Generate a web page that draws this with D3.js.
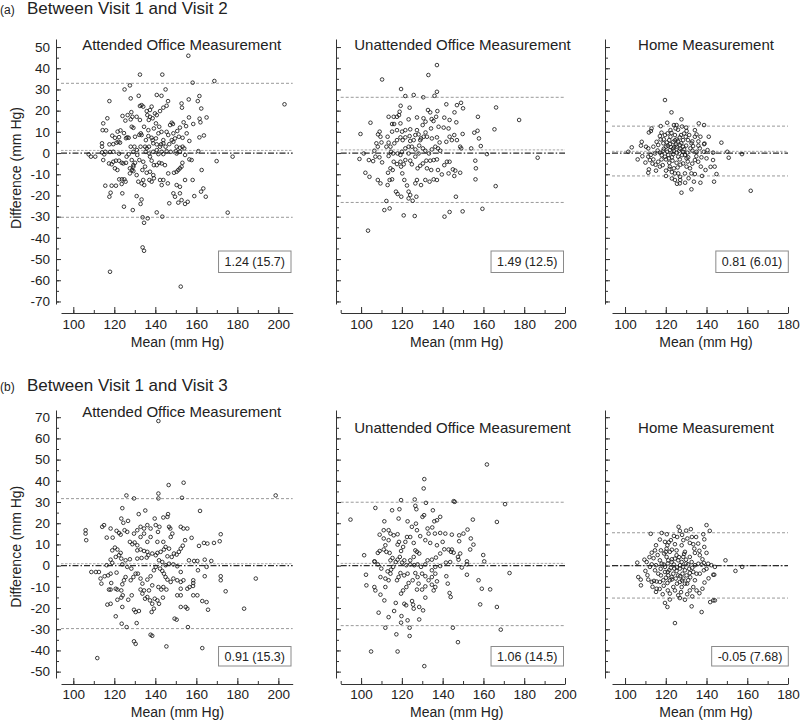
<!DOCTYPE html>
<html><head><meta charset="utf-8">
<script src="https://cdn.jsdelivr.net/npm/d3@7"></script>
<style>body{margin:0;background:#fff;} svg{display:block;font-family:"Liberation Sans",Arial,sans-serif;}</style>
</head><body><svg id="c" width="800" height="721"></svg>
<script>
// ---------------- DATA ----------------
const rowHeaders = [["(a)", "Between Visit 1 and Visit 2"], ["(b)", "Between Visit 1 and Visit 3"]];
const panelTitles = ["Attended Office Measurement", "Unattended Office Measurement", "Home Measurement"];
const xAxisTitle = "Mean (mm Hg)";
const yAxisTitle = "Difference (mm Hg)";
const xTicksOffice = [100, 120, 140, 160, 180, 200];
const xTicksHome = [100, 120, 140, 160, 180];
const yTicksA = [-70, -60, -50, -40, -30, -20, -10, 0, 10, 20, 30, 40, 50];
const yTicksB = [-50, -40, -30, -20, -10, 0, 10, 20, 30, 40, 50, 60, 70];
const meanDiffA = [1.24, 1.49, 0.81];
const meanDiffB = [0.91, 1.06, -0.05];
const upperLoAA = [32.9, 26.3, 12.7];
const lowerLoAA = [-30.3, -23.3, -10.8];
const upperLoAB = [31.6, 29.9, 15.5];
const lowerLoAB = [-29.7, -28.3, -15.3];
const statLabelsA = ["1.24 (15.7)", "1.49 (12.5)", "0.81 (6.01)"];
const statLabelsB = ["0.91 (15.3)", "1.06 (14.5)", "-0.05 (7.68)"];

const a1Points = [[156.1,45.9],[132.5,37],[143.4,37],[158.2,33.2],[168.8,34],[203,23],[127.6,31.9],[125,30],[145,30],[117.6,24.5],[128,25.8],[131.9,27],[140.7,27.4],[143,27],[146.2,24.5],[156.3,25.3],[161.5,26.9],[160.7,24.5],[152.8,23.4],[153,21.4],[162.4,21],[165,16.8],[162,14.5],[161.6,16.2],[156.4,16.8],[153.8,14.5],[158.5,13.7],[155,12.7],[152,12],[150.7,10.4],[155.3,9.3],[151.5,7.7],[153.3,7.2],[161.5,7.4],[163.7,8.3],[156.6,5.7],[161,0.9],[116.6,16.4],[114.6,14],[114.3,10.8],[116,10.7],[119,8.2],[120.3,7.2],[122.3,7.5],[124.7,9.4],[123,10.7],[127,7.2],[125.7,7],[114,4.6],[114,3],[117.6,4.1],[119.5,4.2],[122,5.3],[122.8,4.9],[115.6,0.6],[107.5,-0.6],[108.6,-1.7],[110.7,-1.7],[114,0.3],[117.9,0.5],[119.5,0.6],[122.3,-0.3],[117.4,-4.9],[118.7,-5.3],[119.5,-4.1],[120.8,-3.6],[122.3,-3.6],[120.3,-7.2],[123.6,-4.6],[124.4,-4.9],[125.7,-4.6],[121.5,-8],[115.6,-15.4],[118.7,-15.4],[120.8,-15.4],[117.6,-20.6],[118.2,-18.7],[122.4,-12.4],[123.7,-12.4],[124.9,-12.4],[125.5,-13.5],[123.6,-14.6],[123.9,-19],[124.7,-25.3],[129,-26.9],[127.6,-9.6],[128.6,-8],[129.3,-5.7],[128.5,-3.3],[129.3,0.6],[128,3],[129.8,3],[131,1.4],[127,-0.6],[126,-1.7],[130.1,7.7],[132.2,8.6],[132.9,9.3],[133.3,8.5],[128.5,12.4],[129.3,11.9],[128,15.9],[128.8,17.1],[128.3,19.3],[126.5,17.9],[124,17.5],[130.9,17.1],[132.5,15.6],[133.3,22.6],[134.1,21.9],[132.5,22.2],[135.8,19.8],[137.4,20.3],[138.2,21.9],[136.1,17.9],[137.4,17.1],[138.7,16.4],[136.8,15.6],[139.8,18.7],[140.7,17.9],[142.3,19.8],[143.9,21.4],[145.5,22.3],[140.3,14],[141.9,12.4],[139.3,11.6],[136.6,10.8],[134.5,12.4],[136.6,8],[138.2,7.2],[138.7,6.1],[135.4,6.1],[140.3,6.9],[141.5,9.3],[143,10],[145.5,10],[147.2,13.2],[148,14.3],[148.6,13.7],[146.3,8.5],[148.8,9.3],[143.9,6.1],[148,6.1],[149.6,6.9],[148.8,5.3],[143.9,4.6],[142.8,4.1],[140.7,4.1],[139,4.6],[136.9,3],[135,3],[132.8,3],[142.3,3],[145,3],[146.8,4.2],[150.4,3],[152,2.5],[153.3,3],[154.1,2.2],[150,0.9],[150.4,-0.2],[152,0.6],[145.5,0.9],[143.9,-0.5],[143.1,0.6],[141.5,-0.5],[140.7,1.4],[139,0.6],[147.5,0.6],[154.5,-0.9],[156.6,-3],[157.7,-3.3],[153.2,-4.6],[152.8,-6.4],[152,-7.2],[151.2,-8],[150.4,-8.8],[149.1,-9.3],[146.3,-9.6],[141.9,-4.6],[143.1,-4.9],[144.7,-5.7],[140.7,-5.7],[139.3,-5.7],[138.2,-3.6],[134.1,-4.1],[135,-6.4],[133.7,-8],[135.8,-9.3],[137.4,-8.8],[139,-10.4],[139.3,-11.9],[138.2,-13.5],[137.1,-12.7],[134.1,-12.7],[133.3,-14.3],[134.6,-15.1],[131.7,-13.5],[130.9,-10.4],[129.3,-8.5],[142.3,-12.7],[143.1,-15.1],[143.9,-12.7],[146.1,-14.3],[150.4,-15.1],[152,-15.9],[148.8,-19],[149.6,-20.6],[152,-19],[152.8,-22.2],[151.2,-23.4],[146.8,-23.7],[154.5,-24],[155.8,-23],[154.5,-12.7],[158.2,-12.7],[159,-20.3],[162.3,-18.2],[163.4,-16.7],[164.6,-20.6],[162.6,-8],[169.9,-3.8],[177.7,-1.7],[175.3,-28.1],[140.7,-28],[143.4,-30],[133.3,-21.9],[130.9,-20.3],[132.8,-24],[133.8,-30.3],[134.5,-32.9],[136.3,-30.8],[133.8,-44.5],[134.5,-46.1],[117.9,-56],[152.4,-63],[115.1,-0.6],[114.6,-3.3],[132.2,-3.3],[131.2,-0.9],[130.1,-4.6],[129.3,-6.4],[127.6,-7.2],[135.3,0.6],[135.8,2.2],[137.1,-0.2],[137.4,-1.7],[121.1,4.9],[121.6,10.1],[125.4,15.3],[126.3,7.4]];

const a2Points = [[137.2,41.5],[133,36.8],[110.3,34.7],[119.6,30.2],[137.2,28.9],[136,27],[125.8,27.4],[130.5,26.3],[121.7,26.9],[141.8,23],[147,22.6],[149,23.7],[150,21.1],[166.2,21.5],[123.8,21.4],[119.4,22.3],[118.9,19.5],[132.8,20.3],[137.4,19.8],[133.9,19.2],[145.8,19.2],[157.3,17.1],[177.5,15.6],[104.6,14.3],[113.5,17.1],[116,17.1],[117.6,17.1],[118.6,17.9],[116.2,13.7],[115.2,13.7],[119.3,14],[123.3,15.9],[127.4,16.8],[130.6,16.4],[131.6,14.8],[134.6,16],[135.5,15.1],[136.8,17.1],[140.8,16.7],[143.4,15.6],[146.7,14.5],[142.9,11.6],[140.5,12],[138,12.4],[134.3,11.6],[130.2,13.2],[127.4,10.8],[124.1,11.2],[121.7,10.8],[120.1,10.1],[117.6,10.8],[115.2,10.1],[113,7.7],[109.1,10.1],[108.3,8.8],[99.7,9],[109.5,7.7],[110,5],[108.2,3],[107.5,4.6],[106.5,1.1],[101.3,-0.2],[99.2,-2.8],[103.8,-3.3],[105.9,-3.8],[109,-2],[110.3,-4.4],[107,-1.7],[112.4,3],[113.5,4.9],[114.4,3],[114.7,0.6],[116.3,4.6],[117.6,6.1],[119.3,7.4],[120.4,6.1],[121.7,7.4],[123.8,8],[126.6,8.5],[128.2,8.8],[129.4,6.9],[130.7,7.7],[132.3,7.7],[134.7,6.9],[137.2,7.4],[138.5,5],[141.8,5.3],[143.4,7.7],[144.5,6.1],[145.7,8.5],[147,6.1],[149.8,9],[148.6,3],[149.1,2.2],[154,2.2],[155.5,9.6],[157.1,10.5],[157.8,6.9],[158.7,3.3],[165.4,11.2],[161.7,-0.5],[186.6,-2.2],[156,-3.6],[156.3,-7.2],[166,-15.6],[156.1,-12.4],[159.5,-26.3],[149.8,-27.5],[143.4,-27.8],[140.9,-30],[126.3,-29.7],[120.9,-29.4],[114,-26.1],[111.4,-26.9],[112.4,-22.6],[103.4,-36.6],[102.1,-9.3],[104.1,-11.2],[108.2,-12.7],[109.5,-14.3],[113,-15.1],[114,-12.7],[115.2,-12.4],[113.2,-9.3],[115.5,-8],[114.4,-7.2],[117.1,-18.2],[117.9,-19.3],[119.7,-20.6],[123.3,-18.2],[124.1,-19.8],[123.3,-21.4],[125.3,-22.5],[127.1,-20.6],[122.5,-15.3],[121.2,-12.7],[120.2,-9.6],[119.6,-6.4],[120.9,-5.3],[117.6,-5.2],[116,-4.1],[119.3,-4.1],[121.7,-3.3],[124.1,-3.6],[124.9,-5.3],[126.6,-1.7],[128.2,-0.2],[126.6,1.7],[124.9,3],[123.3,3],[121.7,2.2],[120,0.6],[117.9,-0.2],[119.3,-0.9],[123.3,-0.2],[128.5,3.5],[130.3,2.2],[131.5,1.1],[133.3,-0.2],[134.7,1.7],[136.4,3],[137.7,2.2],[138.8,1.1],[135.6,-3.3],[137.2,-3],[133.9,-3.6],[132,-3.6],[130.3,-4.9],[129,-6],[127.7,-7.2],[132.3,-7.2],[134.4,-8],[137.7,-8],[139.6,-10.1],[140.8,-5.7],[142.1,-4.1],[143.4,-4.1],[145,-7.7],[146.2,-8.3],[148.6,-9.3],[145.7,-10.8],[142.9,-9.6],[137.2,-12.7],[135.6,-12.4],[133.6,-13.5],[131.5,-12.7],[129.4,-15.1],[127.4,-12.7],[126.6,-14.3],[146.5,-20.6],[115.7,-0.2],[113.5,-1.4],[129,6.1],[124.1,5.7],[131.6,9.7],[125.8,6.1]];

const a3Points = [[119.6,25],[122.8,19.2],[127.7,15.9],[120.7,14.3],[117.5,12.7],[113,11.6],[111.7,9.7],[112.7,10.4],[124,13.2],[125.3,13.2],[124.8,11.6],[130.2,10.4],[136.2,14],[138.8,13.2],[134.3,10.8],[135.1,8.8],[137,7.7],[141.1,7.7],[147.3,4.9],[103.3,2.7],[101.6,0.6],[106.2,-3],[108.2,5.3],[107.8,3.5],[110.3,3],[111.4,2.2],[113.9,3],[116.3,3.8],[115.5,5.3],[117.5,6.4],[117.1,8],[117.9,9.6],[119.6,8.5],[120.9,9.3],[122.3,7.7],[121.7,6.1],[118.8,4.6],[120.1,3],[122,4.2],[123.7,5.3],[125.3,6.4],[126.9,7.4],[128.5,6.1],[129.8,7.7],[130.9,6.1],[132.6,4.6],[133.4,3.3],[132.1,2.2],[128.5,3],[126.9,3.8],[125.3,3],[123.7,2.2],[122,1.4],[120.7,0.6],[118.8,1.1],[117.1,0.2],[114.7,-0.2],[112.6,-0.9],[111.4,-1.7],[112.2,-3.3],[113.9,-3],[116.3,-4.1],[117.9,-3],[119.6,-1.7],[121.2,-0.9],[123.7,-0.5],[125.3,0.2],[126.6,1.1],[128.5,0.6],[130.5,0.2],[133.1,1.1],[135.1,0.6],[136.7,2.2],[138.7,0.6],[140.5,1.4],[143.2,0.2],[150.2,0.6],[150.9,-2.2],[157.4,-0.5],[161.7,-17.8],[140,-2.5],[143.2,-3.3],[144,-6.4],[144.9,-9.9],[143.7,-13.5],[137.8,-10.8],[134.3,-9.9],[131.9,-7.2],[132.6,-9.6],[131.2,-11.9],[129.4,-9.6],[127,-11.2],[126.1,-9.6],[127.1,-12.7],[126.9,-14.3],[124.5,-12.7],[124.5,-9.6],[124,-7.2],[122,-6.4],[120.1,-8.3],[120.1,-10.8],[118.5,-5.7],[117.1,-6.4],[115.2,-8.3],[111.7,-7.7],[111.4,-9.3],[127.7,-18.7],[132.6,-17.1],[137.2,-6.4],[135.9,-4.1],[134.3,-3.3],[128.5,-4.9],[130.2,-2.5],[126.9,-3],[125.3,-4.6],[123.3,-3.6],[121.7,-4.6],[120.1,-3],[130.2,-6.4],[126.1,-1.7],[129.4,-0.9],[124.2,3],[127.6,4.6],[124.5,8.5],[134.3,7.7],[138.8,4.2],[122.3,10.8],[119,2],[121,3.5],[122.5,2.8],[124,1],[125,4],[126,5.5],[127,2],[128,-1],[129,1.8],[130,3.5],[131,-2],[123,-2],[121.5,-2.5],[120.5,5],[119,6.5],[124.5,6],[127.5,8.5],[129,9.2],[131.5,8.5],[133,5.5],[127.2,-5.5],[125.8,-6.8],[123,-9],[121.8,-7.5],[130.8,-4],[133,-5],[135,-1.5],[136,3.5],[122.8,9.5],[126,11],[128,12.5],[130,12],[118,-1],[116,1.2],[115,-5.5],[113.5,-5],[110,-4.5],[108.5,-1.5],[133.8,-13.5],[129.5,-14],[125.5,-14.5],[123,-12],[137,-14],[139.5,-8],[142,-6.5],[139,4.5],[136,5.5],[137.5,-2]];

const b1Points = [[141.5,68.2],[146.5,38],[153.8,39.1],[141.5,34],[141.5,31.7],[153,32],[125.9,33.1],[129.6,31.7],[198.7,33.1],[161.8,25.8],[135.1,26],[123.9,27.1],[131.9,24.3],[146.2,24.3],[145.9,23],[143.9,22.7],[139.7,22.2],[123.4,22.2],[126.7,21.1],[124.4,20.2],[115,19.1],[114.1,18.3],[106,16.7],[106,15.1],[106.3,12],[118.2,17.5],[116.3,13.2],[119.2,13.2],[121.1,16.4],[122.3,15.4],[123.1,14.6],[125,16.7],[126.3,15.9],[129.6,15.1],[131.2,16.7],[132.8,18.3],[134.5,17.5],[136.1,19.1],[137.7,17.5],[140.2,19.1],[141.3,15.9],[142,18.3],[146.7,18.3],[147.3,17.5],[148.3,15.1],[147.5,13.5],[152.4,18.3],[153.7,17.5],[155.6,17.5],[154.5,12],[153.4,9.4],[152.4,8],[151.5,6.5],[150.4,5.2],[149.1,5.7],[157.7,13.1],[161.3,9.3],[163.7,10.7],[165.4,10.4],[168.6,10.7],[171.4,11.5],[171.9,14.8],[156.4,2.5],[158.9,2.2],[160.5,2.2],[164.1,2.8],[167.3,2.2],[165,-0.6],[160.8,-2.2],[164.1,-5],[171.9,-5],[171.9,-6.9],[174.3,-12.1],[158.5,-6.9],[158.5,-8.2],[158.4,-9.6],[155.6,-10.9],[156.7,-10.1],[153.7,-6.9],[152.4,-7.7],[152.4,-10.9],[158.5,-14],[160.5,-14],[162.9,-16.7],[165,-17.2],[165.7,-20.8],[155.6,-20.3],[154.8,-19.5],[155.9,-29],[162.9,-38.9],[183.3,-20.3],[189,-6.1],[152.4,-14],[150.7,-14],[152.4,-19.5],[149.4,-25],[150.4,-25.5],[145.4,-38.1],[137.7,-32.6],[138.5,-33.1],[129.6,-35.7],[130.4,-36.9],[130.9,-27.1],[126,-29],[123.6,-27.4],[111.7,-43.6],[120.7,-23.9],[129.6,-20.8],[130.4,-21.9],[132,-21.4],[138.2,-21.9],[139.3,-20.3],[121.5,-16.1],[123.4,-15.1],[124.1,-14],[128.5,-14],[126.8,-16.1],[116.6,-18.4],[118.2,-18],[117.4,-11.3],[120.7,-10.9],[121.5,-11.3],[118.5,-8.2],[115.3,-5],[117,-4.6],[118.2,-3.8],[121.1,-3.3],[112.5,-3],[108.8,-3],[111,-3],[116.3,0.2],[119,1.3],[118.2,2.8],[120.7,4.1],[122.3,4.9],[123.1,6],[123.4,3.3],[121.5,7.6],[120.3,8.5],[119,7.2],[127.6,11.2],[128.8,10.1],[129.9,10.9],[131.2,9.6],[132.8,7.6],[134.5,6.9],[136.1,6.5],[136.6,4.9],[135.8,3.8],[133.3,3.6],[131.2,3.3],[127.6,3],[125.5,2.5],[123.9,0.6],[126.3,-0.6],[128.3,-1.4],[130.4,-3.8],[131.5,-3.8],[129.3,-5.4],[128,-6.9],[125.5,-5.4],[124.7,-6.9],[123.9,-8.8],[132.8,-6.1],[133.7,-8.5],[132.8,-11.3],[134.5,-11.7],[133.7,-13.2],[135,-15.6],[136.1,-14.8],[137.4,-16.4],[138.5,-18],[139.7,-15.6],[141,-16.4],[141.8,-18],[143.7,-15.1],[141.5,-10.1],[142.9,-11.3],[143.9,-10.1],[145.4,-11.3],[138.5,-9.3],[136.9,-11.7],[136.1,-6.6],[137.7,-5],[139.3,-2.2],[140.2,-0.6],[142.3,-1.4],[143.4,-2.5],[144.2,-3.8],[145,-5.4],[145.9,-6.6],[147.5,-7.7],[148.8,-6.1],[150.7,-6.9],[152.4,-3],[150.7,-0.3],[148.8,0.6],[146.7,0.9],[145,0.2],[143.4,1.7],[141.8,2.5],[140.2,4.9],[138.5,5.7],[141,6],[142.6,6.5],[144.2,7.6],[145,8.8],[146.7,8],[148,4.1],[145.9,4.4],[143.9,11.2],[141,11.2],[137.7,13.5],[136.1,11.2],[134.5,15.1],[132.8,13.5],[131.2,7.2],[113.3,-6.1],[113.7,-8.5],[118.2,-11.3],[123.9,-19.5],[123.4,-11.7]];

const b2Points = [[161.7,47.7],[131,40.8],[130.7,36.4],[145.4,30.4],[145.9,30.1],[170.6,29],[119.6,30.9],[126.3,31.2],[131.8,29.6],[118.8,26.6],[107,27.2],[115.2,26.1],[126.6,28.2],[127.1,26.6],[135.2,26.1],[130.9,23.8],[130.1,23],[138.8,23],[137.2,21.4],[135.9,20.9],[94.8,21.7],[122.8,20.9],[118.4,22.2],[111.4,20.9],[154.8,21.7],[166.6,20.6],[126.9,19.8],[134.9,18],[136.2,15.1],[138.8,15.4],[141.3,15.1],[144.5,14.6],[148.1,14.3],[150.2,15.1],[152.2,17],[153.8,12.8],[155.1,9.9],[153.5,7.6],[159.9,5],[160.4,2],[151.9,2],[149.4,-0.9],[151.9,-4.3],[157.6,-6.9],[159.2,-10.9],[163.3,-11.2],[158.4,-18.3],[166.6,-19.5],[172.8,-3.5],[168.5,-30.2],[145,-29.3],[147.5,-36.1],[131,-47.4],[104.9,-40.5],[117.9,-40.5],[117.3,-32.4],[123.8,-33.2],[123.8,-29.3],[111.9,-29.3],[119.6,-26.9],[119.8,-23.8],[122.8,-25.8],[128.5,-25.4],[108.6,-22.2],[113.5,-24.3],[116.2,-21.4],[117,-17.6],[111.4,-16.4],[121.2,-18],[122.1,-18.7],[125,-16.7],[125.5,-18.4],[125.8,-20.3],[128.5,-19.5],[130.4,-21.1],[131.5,-15.1],[109.5,-13.7],[107,-11.7],[106.5,-10.1],[102.6,-9.3],[102.4,-4.3],[101.5,4.9],[106.5,2],[108.2,0.6],[109.9,-1.4],[109.5,-5.4],[111.9,-6.1],[111.9,-10.1],[113.5,-6.9],[114.4,-3.8],[114.7,-1.9],[113,-2.7],[115.7,-0.6],[117,1.7],[117.9,2.8],[119,4.1],[115.4,3.6],[114.4,2.5],[114,6],[112.4,6.5],[111.1,7.6],[109.1,6.9],[108.2,6],[106.7,1.9],[111.9,9.6],[113.5,12],[114.4,15.1],[111.1,12.8],[109.1,14.6],[111.1,16.7],[113.5,16.7],[116,14.3],[117.9,14.8],[118.6,11.2],[117.9,9.9],[119.6,6.9],[120.6,8.8],[121.7,11.2],[122.5,13.5],[124.1,13.5],[125.8,10.7],[126.6,7.2],[127.4,6.5],[128.5,5.7],[125.8,4.1],[124.1,2.5],[121.2,2.5],[120.1,1.4],[122.2,0.2],[124.1,0.6],[126.1,0.2],[127.7,0.6],[129.4,-0.6],[131.5,0.6],[132.6,2.5],[134.7,2.8],[136.7,3.8],[138.8,5.7],[140.8,7.7],[142.9,7.6],[144.5,7.6],[145.4,6.1],[143.7,1.7],[141.6,1.4],[138.8,-0.2],[136.4,-0.6],[134.7,-2.2],[136.4,-3.8],[134.7,-5.4],[137.2,-7.4],[136.4,-10.1],[135.6,-11.7],[134.7,-9],[133.1,-6.9],[131.5,-5],[129.9,-3.8],[127.7,-5.4],[126.6,-3.5],[125.3,-6.9],[123.3,-8.2],[122.2,-10.1],[120.6,-11.7],[119.6,-13.2],[117.6,-6.9],[118.4,-5.4],[119.3,-3.5],[121.1,-4.6],[122.8,-3.8],[127.4,-11.3],[128.2,-8.5],[129.9,-11.3],[131.5,-9.8],[141.8,-5],[142.5,-8.5],[143.4,-12.9],[143.9,-14.8],[151.9,0.6],[147.5,4.1],[147.8,2.8],[148.6,5.7],[144.1,6.5],[140,11.2],[148.1,11.5],[137.2,9.6],[133.9,10.7],[133.1,15.1],[131.5,12],[129,13.9],[127.4,16.7],[124.9,18.3],[132.6,17.5]];

const b3Points = [[140,19.1],[141.6,16.4],[126.3,18.3],[126.9,16.4],[132.3,17.2],[112.6,15],[118,15.4],[120.5,14.8],[138.4,14.8],[138.9,12.4],[122.5,12],[125.6,13.5],[132.8,13.5],[134.9,13.5],[130.6,12.8],[128.6,12],[117.1,12.3],[119.6,11.2],[115.2,9.6],[120.8,9.6],[124.5,10.1],[127.8,9.6],[131.8,10.7],[133.5,10.1],[135.9,10.4],[138.9,8.8],[140,6],[114.7,7.2],[117.6,7.2],[120.4,8],[113.1,6.1],[119.2,5.7],[122,6.5],[125.3,7.2],[129.4,6.5],[134.3,6],[136.7,4.9],[149.3,2.5],[106,1.4],[109.5,2.8],[110.6,1.7],[113.1,0.6],[112.2,-0.6],[115.2,0.2],[117.1,2.5],[118,0.9],[119.6,-0.6],[121.2,2.5],[122.9,1.7],[124.5,3.3],[126.1,2.5],[127.8,1.7],[129.9,2.8],[131,0.6],[132.7,1.7],[134.3,0.2],[136,0.9],[137.6,0.5],[138.7,1.3],[140.8,0.9],[142.4,0.2],[144.1,-0.6],[154.2,-2.5],[157.5,-0.6],[106.5,-5.4],[107.7,-6.6],[107.8,-9.3],[111.4,-6.6],[113.1,-7.7],[114.2,-7.2],[115.5,-10.9],[115.2,-12.4],[117.1,-7.7],[117.6,-4.6],[119.6,-3],[121.2,-4.6],[120.8,-8.2],[121,-11.7],[122,-6.9],[123.7,-3.8],[124.2,-1.4],[125.3,-2.5],[126.1,-4.6],[124.9,-6.1],[126.9,-1.4],[128.2,-3.8],[129.4,-2.2],[130.2,-4.6],[131.8,-3.5],[133.5,-3],[135.1,-3.8],[136.7,-3.8],[138.7,-2.2],[143.3,-4.3],[143.8,-4.3],[134.3,-6.9],[133.5,-10.1],[135.1,-11.7],[138,-10.9],[131.8,-11.7],[129.4,-8.5],[126.9,-7.7],[127.8,-10.1],[123.7,-10.1],[124.5,-11.7],[122,-13.2],[126.1,-14],[126.9,-15.3],[129.4,-16.1],[119.6,-17.6],[120.8,-19.5],[132.7,-19.2],[137.6,-21.9],[141.8,-17.2],[143.3,-16.4],[144.1,-16.4],[124.5,-27.1],[121.7,-2.2],[122.9,-5.4],[120.1,-5.7],[118.8,-6.9],[116.3,-3.8],[114.7,-2.2],[128.6,-6.1],[131,-6.9],[120.4,4.1],[128.6,4.1],[131.8,4.1],[125.3,4.9],[119,0.5],[121,1],[122.5,-1],[124,0.5],[125.5,-0.8],[127,0.2],[128.5,-0.5],[130,1],[131.5,-1.5],[133,-1],[123,3],[126.5,4],[129,5.5],[121,-3],[123,-6.5],[125.5,-8.5],[128,-7],[130.5,-8.5],[132,-5.5],[127,-5],[119,-9.5],[117,-11],[118.5,-13.5],[122,-16],[127.5,-12.5],[130.5,-13.5],[133,-14.5],[136.5,-13],[139,-8],[141,-6],[116,5],[114,3.5],[112,4],[110,-2.5],[111,-4.5],[121.5,11],[124,14],[128,14.5],[130,16.5],[134,8],[136.5,7],[138,3],[140,-1.5],[123,7.5],[120,6.5],[117.5,-1.5],[115.5,-7.5],[113.5,-10]];

// ---------------- LAYOUT ----------------
const TEXT = "#222", AXIS = "#333";
const svg = d3.select("#c");

const rows = [
  {header: rowHeaders[0], headerY: 13.5, yDomain: [-71.2, 53.8], yRange: [304, 39], xAxisY: 313, tickPad: 6.5,
   yTicks: yTicksA, titleY: [50, 50, 50], meanTitleY: 346.5, yTitleCY: 168, boxBottom: 272.5, boxH: 21.5,
   points: [a1Points, a2Points, a3Points], means: meanDiffA, upper: upperLoAA, lower: lowerLoAA, stats: statLabelsA},
  {header: rowHeaders[1], headerY: 391, yDomain: [-53, 73.4], yRange: [678, 410], xAxisY: 684, tickPad: 5.5,
   yTicks: yTicksB, titleY: [417, 433, 433], meanTitleY: 716.5, yTitleCY: 546.7, boxBottom: 666, boxH: 19.5,
   points: [b1Points, b2Points, b3Points], means: meanDiffB, upper: upperLoAB, lower: lowerLoAB, stats: statLabelsB}
];
const cols = [
  {yAxisX: 56, xDomain: [94, 207], xRange: [61, 292.7], xTicks: xTicksOffice, minorExtra: [], titleX: 181.7, meanX: 177.5, labels: true, boxRight: 291},
  {yAxisX: 336, xDomain: [90, 200], xRange: [340.7, 565], xTicks: xTicksOffice, minorExtra: [90], titleX: 462.5, meanX: 456.7, labels: false, boxRight: 563.5},
  {yAxisX: 605, xDomain: [93.6, 180], xRange: [612, 788], xTicks: xTicksHome, minorExtra: [], titleX: 706, meanX: 706, labels: false, boxRight: 788.3}
];

function styleAxis(g) {
  g.selectAll("path.domain").attr("stroke", AXIS).attr("stroke-width", 1);
  g.selectAll(".tick line").attr("stroke", AXIS).attr("stroke-width", 1);
  g.selectAll(".tick text").attr("fill", TEXT).attr("font-size", 13.5)
    .attr("font-family", '"Liberation Sans",Arial,sans-serif');
}

rows.forEach((row) => {
  const h = svg.append("text").attr("x", 0).attr("y", row.headerY).attr("fill", TEXT);
  h.append("tspan").attr("font-size", 12).text(row.header[0]);
  h.append("tspan").attr("x", 27).attr("font-size", 17).text(row.header[1]);

  svg.append("text")
    .attr("transform", `translate(21,${row.yTitleCY}) rotate(-90)`)
    .attr("text-anchor", "middle").attr("font-size", 14).attr("fill", TEXT)
    .text(yAxisTitle);

  cols.forEach((col, ci) => {
    const x = d3.scaleLinear().domain(col.xDomain).range(col.xRange);
    const y = d3.scaleLinear().domain(row.yDomain).range(row.yRange);
    const g = svg.append("g");

    const lines = [
      {v: row.upper[ci], dash: "3,2", color: "#9a9a9a", w: 1},
      {v: row.lower[ci], dash: "3,2", color: "#9a9a9a", w: 1},
      {v: row.means[ci], dash: "2.5,1.5", color: "#a8a8a8", w: 1},
      {v: 0, dash: "6,2,1.5,2", color: "#2a2a2a", w: 1.3}
    ];
    g.selectAll("line.ref").data(lines).join("line")
      .attr("x1", col.xRange[0]).attr("x2", col.xRange[1])
      .attr("y1", d => y(d.v)).attr("y2", d => y(d.v))
      .attr("stroke", d => d.color).attr("stroke-width", d => d.w)
      .attr("stroke-dasharray", d => d.dash);

    g.selectAll("circle").data(row.points[ci]).join("circle")
      .attr("cx", d => x(d[0])).attr("cy", d => y(d[1])).attr("r", 1.8)
      .attr("fill", "none").attr("stroke", "#1a1a1a").attr("stroke-width", 0.85);

    const yMinor = d3.range(row.yTicks[0], row.yTicks[row.yTicks.length - 1] + 0.1, 5);
    const yMin = g.append("g").attr("transform", `translate(${col.yAxisX},0)`)
      .call(d3.axisLeft(y).tickValues(yMinor).tickSize(-3).tickSizeOuter(0).tickFormat(""));
    yMin.select("path.domain").remove();
    styleAxis(yMin);
    const yAx = g.append("g").attr("transform", `translate(${col.yAxisX},0)`)
      .call(d3.axisLeft(y).tickValues(row.yTicks).tickSize(-5).tickSizeOuter(0).tickPadding(6)
        .tickFormat(col.labels ? d3.format("d") : () => ""));
    styleAxis(yAx);
    yAx.selectAll(".tick text").text(d => col.labels ? String(d) : "");

    const xMinorVals = col.minorExtra.concat(d3.range(col.xTicks[0], col.xTicks[col.xTicks.length - 1] + 0.1, 10));
    const xMin = g.append("g").attr("transform", `translate(0,${row.xAxisY})`)
      .call(d3.axisBottom(x).tickValues(xMinorVals).tickSize(-3).tickSizeOuter(0).tickFormat(""));
    xMin.select("path.domain").remove();
    styleAxis(xMin);
    const xAx = g.append("g").attr("transform", `translate(0,${row.xAxisY})`)
      .call(d3.axisBottom(x).tickValues(col.xTicks).tickSize(-6).tickSizeOuter(0).tickPadding(row.tickPad).tickFormat(d3.format("d")));
    styleAxis(xAx);

    g.append("text").attr("x", col.meanX).attr("y", row.meanTitleY)
      .attr("text-anchor", "middle").attr("font-size", 14).attr("fill", TEXT).text(xAxisTitle);

    g.append("text").attr("x", col.titleX).attr("y", row.titleY[ci])
      .attr("text-anchor", "middle").attr("font-size", 15).attr("fill", TEXT).text(panelTitles[ci]);

    const bg = g.append("g");
    const rect = bg.append("rect");
    const t = bg.append("text").attr("font-size", 12.5).attr("fill", TEXT).attr("text-anchor", "middle")
      .text(row.stats[ci]);
    const tw = t.node().getComputedTextLength();
    const bw = tw + 12;
    const bx = col.boxRight - bw;
    const by = row.boxBottom - row.boxH;
    rect.attr("x", bx).attr("y", by).attr("width", bw).attr("height", row.boxH)
      .attr("fill", "#fff").attr("stroke", "#8a8a8a").attr("stroke-width", 1);
    t.attr("x", bx + bw / 2).attr("y", by + row.boxH / 2 + 4.4);
  });
});
</script>
</body></html>
